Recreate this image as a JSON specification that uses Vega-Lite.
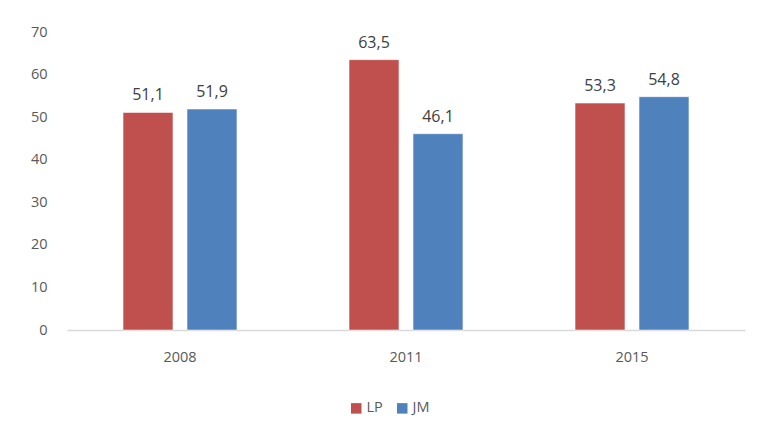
{
  "$schema": "https://vega.github.io/schema/vega-lite/v6.json",
  "width": 678,
  "height": 298,
  "autosize": {"type": "none"},
  "padding": {"left": 67, "top": 32, "right": 16, "bottom": 107},
  "background": "white",
  "config": {
    "view": {"stroke": null},
    "font": "Open Sans",
    "locale": {"number": {"decimal": ",", "thousands": ".", "grouping": [3], "currency": ["", ""]}}
  },
  "data": {
    "values": [
      {"year": "2008", "series": "LP", "value": 51.1},
      {"year": "2008", "series": "JM", "value": 51.9},
      {"year": "2011", "series": "LP", "value": 63.5},
      {"year": "2011", "series": "JM", "value": 46.1},
      {"year": "2015", "series": "LP", "value": 53.3},
      {"year": "2015", "series": "JM", "value": 54.8}
    ]
  },
  "encoding": {
    "x": {
      "field": "year", "type": "nominal", "title": null,
      "scale": {"paddingInner": 0.496, "paddingOuter": 0.248},
      "axis": {"labelAngle": 0, "ticks": false, "domainColor": "#d9d9d9", "domainWidth": 1.5, "labelPadding": 20, "labelFontSize": 14.5, "labelColor": "#595959", "labelFont": "Open Sans"}
    },
    "xOffset": {"field": "series", "type": "nominal", "sort": ["LP", "JM"], "scale": {"paddingInner": 0.22, "paddingOuter": 0}},
    "y": {
      "field": "value", "type": "quantitative", "title": null,
      "scale": {"domain": [0, 70]},
      "axis": {"values": [0,10,20,30,40,50,60,70], "labelOverlap": false, "grid": false, "domain": false, "ticks": false, "labelPadding": 20, "labelFontSize": 14.5, "labelColor": "#595959", "labelFont": "Open Sans"}
    }
  },
  "layer": [
    {
      "mark": {"type": "bar", "stroke": "white", "strokeWidth": 0.5},
      "encoding": {
        "color": {
          "field": "series", "type": "nominal", "sort": ["LP", "JM"],
          "scale": {"domain": ["LP", "JM"], "range": ["#C0504D", "#4F81BD"]},
          "legend": {"title": null, "orient": "none", "legendX": 282, "legendY": 369, "direction": "horizontal", "symbolType": "square", "symbolSize": 110, "symbolStrokeWidth": 0, "labelFontSize": 14.5, "labelColor": "#595959", "labelFont": "Open Sans", "columnPadding": 12, "labelOffset": 3}
        }
      }
    },
    {
      "mark": {"type": "text", "baseline": "bottom", "dy": -9, "fontSize": 16, "color": "#404040", "font": "Open Sans"},
      "encoding": {
        "text": {"field": "value", "type": "quantitative", "format": ".1f"}
      }
    }
  ]
}
